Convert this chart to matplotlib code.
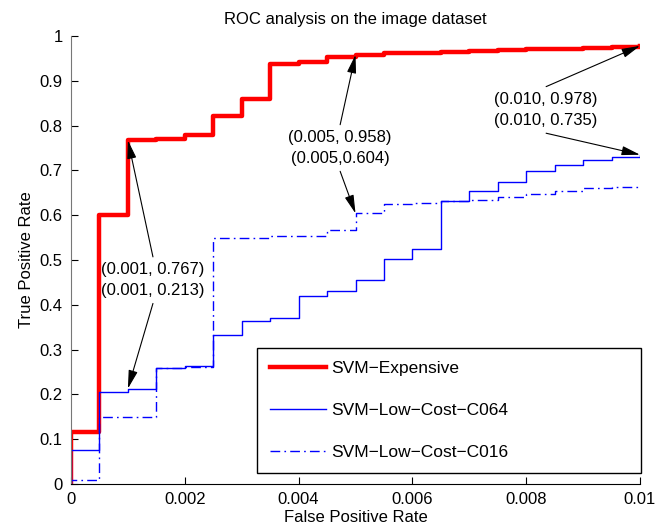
"""ROC analysis on the image dataset: three SVM models."""
import matplotlib.pyplot as plt

plt.rcParams["font.family"] = ["Liberation Sans", "DejaVu Sans"]

FPR = [0.0, 0.0, 0.0005, 0.001, 0.0015, 0.002, 0.0025, 0.003, 0.0035, 0.004, 0.0045,
       0.005, 0.0055, 0.006, 0.0065, 0.007, 0.0075, 0.008, 0.0085, 0.009, 0.0095, 0.01]
TPR_EXPENSIVE = [0.0, 0.115, 0.600, 0.767, 0.771, 0.778, 0.822, 0.860, 0.938, 0.942, 0.953,
                 0.958, 0.961, 0.963, 0.965, 0.967, 0.968, 0.970, 0.972, 0.974, 0.976, 0.978]
TPR_C064 = [0.0, 0.075, 0.205, 0.213, 0.260, 0.263, 0.332, 0.364, 0.371, 0.420, 0.430,
            0.456, 0.502, 0.524, 0.632, 0.654, 0.673, 0.698, 0.713, 0.724, 0.731, 0.735]
TPR_C016 = [0.0, 0.010, 0.150, 0.150, 0.258, 0.262, 0.548, 0.548, 0.553, 0.553, 0.568,
            0.604, 0.625, 0.628, 0.632, 0.634, 0.640, 0.648, 0.653, 0.660, 0.663, 0.665]

X_TICKS = [0, 0.002, 0.004, 0.006, 0.008, 0.01]
X_LABELS = ["0", "0.002", "0.004", "0.006", "0.008", "0.01"]
Y_TICKS = [0, 0.1, 0.2, 0.3, 0.4, 0.5, 0.6, 0.7, 0.8, 0.9, 1.0]
Y_LABELS = ["0", "0.1", "0.2", "0.3", "0.4", "0.5", "0.6", "0.7", "0.8", "0.9", "1"]

# (text, text position, points the arrows go to)
NOTES = [
    ("(0.001, 0.767)\n(0.001, 0.213)", (0.00144, 0.455), [(0.001, 0.767), (0.001, 0.213)]),
    ("(0.005, 0.958)\n(0.005,0.604)", (0.00473, 0.750), [(0.005, 0.958), (0.005, 0.604)]),
    ("(0.010, 0.978)\n(0.010, 0.735)", (0.00835, 0.835), [(0.01, 0.978), (0.01, 0.735)]),
]

fig = plt.figure(figsize=(6.65, 5.31), dpi=100)
ax = fig.add_axes([0.1068, 0.0885, 0.8556, 0.8437])

ax.step(FPR, TPR_EXPENSIVE, where="post", color="red", lw=3.2, label="SVM\u2212Expensive")
ax.step(FPR, TPR_C064, where="post", color="blue", lw=1.0, label="SVM\u2212Low\u2212Cost\u2212C064")
ax.step(FPR, TPR_C016, where="post", color="blue", lw=1.0, dashes=(7, 3, 1.2, 3),
        label="SVM\u2212Low\u2212Cost\u2212C016")

for text, pos, targets in NOTES:
    ax.text(pos[0], pos[1], text, fontsize=12, ha="center", va="center", linespacing=1.45)
    for i, (tx, ty) in enumerate(targets):
        start = (pos[0], pos[1] + 0.052) if i == 0 else (pos[0], pos[1] - 0.052)
        ax.annotate("", xy=(tx, ty), xytext=start,
                    arrowprops=dict(arrowstyle="-|>,head_length=0.8,head_width=0.2",
                                    color="black", lw=0.8, shrinkA=0, shrinkB=0,
                                    mutation_scale=14))

ax.set_xlim(0, 0.01)
ax.set_ylim(0, 1)
ax.set_xticks(X_TICKS)
ax.set_xticklabels(X_LABELS)
ax.set_yticks(Y_TICKS)
ax.set_yticklabels(Y_LABELS)
ax.tick_params(direction="in", length=5, labelsize=12, pad=6)
ax.spines["top"].set_visible(False)
ax.spines["right"].set_visible(False)
ax.spines["left"].set_color("#777777")

ax.set_title("ROC analysis on the image dataset", fontsize=12, pad=9)
ax.set_xlabel("False Positive Rate", fontsize=12, labelpad=2)
ax.set_ylabel("True Positive Rate", fontsize=12, labelpad=4)

leg = ax.legend(loc="lower left", bbox_to_anchor=(0.327, 0.0246, 0.675, 0.286),
                mode="expand", fontsize=12.5, frameon=True, fancybox=False,
                edgecolor="black", framealpha=1, handlelength=3.2, handletextpad=0.3,
                labelspacing=1.55, borderpad=0.75, borderaxespad=0)
leg.get_frame().set_linewidth(1.0)

fig.savefig("out.png", dpi=100)
